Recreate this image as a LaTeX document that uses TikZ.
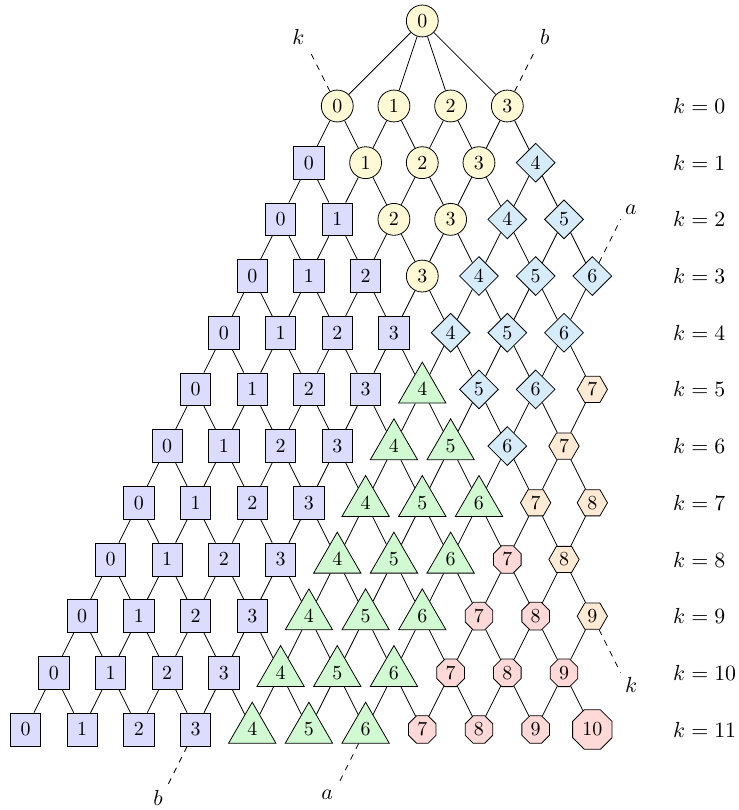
\documentclass[tikz,border=0pt,11pt]{standalone}
\usetikzlibrary{shapes.geometric}

\definecolor{amarillo}{RGB}{255,249,214}
\definecolor{lila}{RGB}{220,220,255}
\definecolor{celeste}{RGB}{214,236,250}
\definecolor{verde}{RGB}{210,250,210}
\definecolor{naranja}{RGB}{255,234,214}
\definecolor{rosa}{RGB}{255,216,216}

\begin{document}
\begin{tikzpicture}[
		% Estilos de los nodos de la red
		nodo/.style = {draw, font=\small, inner sep=1pt},
		circ/.style = {nodo, circle, fill=amarillo, minimum size=16pt},
		cuad/.style = {nodo, rectangle, fill=lila, minimum width=15.2pt, minimum height=16.5pt},
		romb/.style = {nodo, diamond, fill=celeste, minimum size=19.6pt},
		tri/.style = {nodo, regular polygon, regular polygon sides=3, fill=verde, minimum size=27.4pt},
		hexa/.style = {nodo, regular polygon, regular polygon sides=6, fill=naranja, minimum size=15.2pt},
		octo/.style = {nodo, regular polygon, regular polygon sides=8, fill=rosa, minimum size=\tamoct pt},
		etiq/.style = {inner sep=2pt},
		]
		\useasboundingbox (-5.95,-12.42) rectangle (7.07,1.87);
		
		% --- RAIZ ---
		\node [circ] (raiz) at (1.5,1.5) {$0$};
		
		% --- NODOS POR FILA ---
		\foreach \k in {0,...,11} {
			\pgfmathtruncatemacro{\jmax}{min(\k+3,(\k+9)/2)}
			\foreach \j in {0,...,\jmax} {
				\pgfmathtruncatemacro{\grupo}{2*((\j>3)+(\j>6))+(\j<\k)}
				\pgfmathsetmacro{\tamoct}{\j>9 ? 21.4 : 15}
				\ifcase\grupo \def\forma{circ}\or\def\forma{cuad}\or\def\forma{romb}\or\def\forma{tri}\or\def\forma{hexa}\or\def\forma{octo}\fi
				\node [\forma] (n\k-\j) at ({(2*\j-\k)/2},-\k) {$\j$};
			}
			% Etiqueta de la fila
			\node [anchor=west, inner sep=0pt] (fila\k) at (5.92,-\k) {$k = \k$};
		}
		
		% --- CONEXIONES ---
		\foreach \j in {0,...,3} \draw (raiz) -- (n0-\j);
		\foreach \k in {0,...,10} {
			\pgfmathtruncatemacro{\kk}{\k+1}
			\pgfmathtruncatemacro{\jmax}{min(\k+3,(\k+9)/2)}
			\pgfmathtruncatemacro{\jsig}{min(\kk+3,(\kk+9)/2)}
			\foreach \j in {0,...,\jmax} {
				\pgfmathtruncatemacro{\jj}{\j+1}
				\draw (n\k-\j) -- (n\kk-\j);
				\ifnum\jj>\jsig\else \draw (n\k-\j) -- (n\kk-\jj); \fi
			}
		}
		
		% --- BORDES DISCONTINUOS ---
		\coordinate (finK1) at (-0.5,1);
		\coordinate (finB1) at (3.5,1);
		\coordinate (finA1) at (5,-2);
		\coordinate (finK2) at (5,-10);
		\coordinate (finB2) at (-3,-12);
		\coordinate (finA2) at (0,-12);
		\draw [dashed] (n0-0) -- (finK1) node[above left, etiq] (labK1) {$k$};
		\draw [dashed] (n0-3) -- (finB1) node[above right, etiq] (labB1) {$b$};
		\draw [dashed] (n3-6) -- (finA1) node[above right, etiq] (labA1) {$a$};
		\draw [dashed] (n9-9) -- (finK2) node[below right, etiq] (labK2) {$k$};
		\draw [dashed] (n11-3) -- (finB2) node[below left, etiq] (labB2) {$b$};
		\draw [dashed] (n11-6) -- (finA2) node[below left, etiq] (labA2) {$a$};
		
	\end{tikzpicture}
\end{document}
